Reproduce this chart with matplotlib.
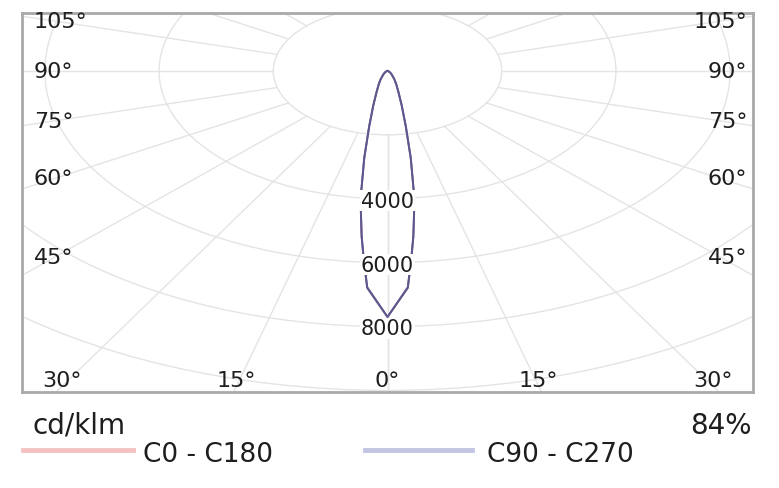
import numpy as np
import matplotlib
matplotlib.use("Agg")
import matplotlib.pyplot as plt
from matplotlib.patches import Circle
from matplotlib.lines import Line2D

# luminous intensity (cd/klm) vs gamma angle (deg)
GAMMA = [0, 3, 4, 5, 6, 7, 8.5, 10.5, 13, 16, 20, 25, 35, 45, 60, 90]
I_C0_C180 = [7700, 6800, 5950, 5200, 4450, 3750, 2750, 1750, 1100, 700, 450, 280, 120, 60, 20, 0]
I_C90_C270 = [7700, 6780, 5930, 5190, 4460, 3760, 2760, 1760, 1110, 705, 455, 285, 125, 62, 21, 0]

RINGS = [2000, 4000, 6000, 8000, 10000]
RING_LABELS = [4000, 6000, 8000]
SIDE_ANGLES = [105, 90, 75, 60, 45]
BOTTOM_ANGLES = [-30, -15, 0, 15, 30]
UNIT_TEXT = "cd/klm"
EFFICIENCY_TEXT = "84%"
SERIES_NAMES = ["C0 - C180", "C90 - C270"]

CURVE_COLORS = ["#7d5479", "#5f5890"]
LEGEND_COLORS = ["#f4c2c2", "#c3c6e2"]
GRID_COLOR = "#e4e4e4"
FRAME_COLOR = "#a9a9a9"
TEXT_COLOR = "#1e1e1e"

W, H = 779, 489
fig = plt.figure(figsize=(W / 100, H / 100), dpi=100)
ax = fig.add_axes([22 / W, 1 - 393 / H, 731 / W, 379 / H])
XMAX = 6400
YTOP, YBOT = 1815, -10050
ax.set_xlim(-XMAX, XMAX)
ax.set_ylim(YBOT, YTOP)
ax.set_xticks([])
ax.set_yticks([])
for s in ax.spines.values():
    s.set_color(FRAME_COLOR)
    s.set_linewidth(2.0)

# grid rings and radial spokes (spokes start at the first ring)
for r in RINGS:
    ax.add_patch(Circle((0, 0), r, fill=False, ec=GRID_COLOR, lw=1.0, zorder=1))
for g in range(0, 181, 15):
    t = np.radians(g)
    for sgn in (-1, 1):
        ax.plot([sgn * RINGS[0] * np.sin(t), sgn * 20000 * np.sin(t)],
                [-RINGS[0] * np.cos(t), -20000 * np.cos(t)],
                color=GRID_COLOR, lw=1.0, zorder=1)


def polar_xy(gamma, inten):
    g = np.radians(np.asarray(gamma, dtype=float))
    i = np.asarray(inten, dtype=float)
    x = np.concatenate([-(i * np.sin(g))[::-1], (i * np.sin(g))[1:]])
    y = np.concatenate([-(i * np.cos(g))[::-1], -(i * np.cos(g))[1:]])
    return x, y


for vals, col in zip([I_C0_C180, I_C90_C270], CURVE_COLORS):
    x, y = polar_xy(GAMMA, vals)
    ax.plot(x, y, color=col, lw=1.4, zorder=3)

# ring value labels on the 0 deg axis
for r in RING_LABELS:
    ax.text(0, -r - 60, f"{r}", ha="center", va="center", fontsize=15,
            color=TEXT_COLOR, zorder=5,
            bbox=dict(fc="white", ec="none", pad=0.6))

# angle labels along the frame
x_in = -(387 - 55) * 17.5
for a in SIDE_ANGLES:
    yv = 0.0 if a == 90 else x_in / np.tan(np.radians(a))
    ax.text(-(387 - 33) * 17.5, yv, f"{a}°", ha="left", va="center",
            fontsize=16, color=TEXT_COLOR, zorder=4)
    ax.text((747 - 387) * 17.5, yv, f"{a}°", ha="right", va="center",
            fontsize=16, color=TEXT_COLOR, zorder=4)
for a in BOTTOM_ANGLES:
    xv = 9860 * np.tan(np.radians(a))
    ax.text(xv, -(381 - 72) * 31.3, f"{abs(a)}°", ha="center", va="center",
            fontsize=16, color=TEXT_COLOR, zorder=4)

# footer: unit, efficiency, legend
fig.text(32 / W, 1 - 434 / H, UNIT_TEXT, ha="left", va="baseline",
         fontsize=20, color=TEXT_COLOR)
fig.text(752 / W, 1 - 434 / H, EFFICIENCY_TEXT, ha="right", va="baseline",
         fontsize=20, color=TEXT_COLOR)
swatches = [(23, 133, 143), (365, 472, 487)]
for (x0, x1, xt), name, col in zip(swatches, SERIES_NAMES, LEGEND_COLORS):
    fig.add_artist(Line2D([x0 / W, x1 / W], [1 - 451 / H, 1 - 451 / H],
                          transform=fig.transFigure, color=col, lw=3.5))
    fig.text(xt / W, 1 - 462 / H, name, ha="left", va="baseline",
             fontsize=19, color=TEXT_COLOR)

fig.savefig("out.png", dpi=100)
